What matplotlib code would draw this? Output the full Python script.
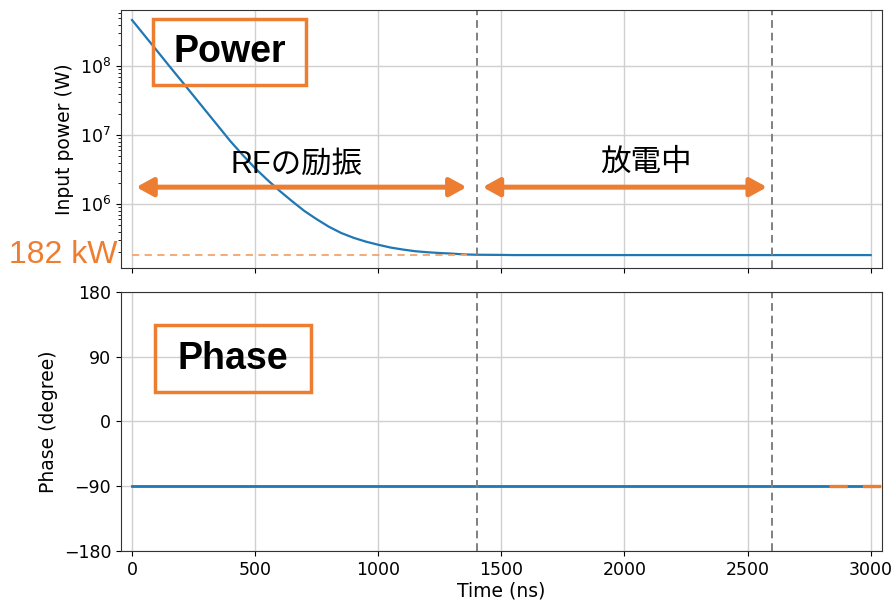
import matplotlib
matplotlib.use("Agg")
import matplotlib.pyplot as plt
import matplotlib.transforms as mtransforms
from matplotlib.patches import Rectangle, FancyArrowPatch
from matplotlib.ticker import LogLocator, NullFormatter

# データ
time_ns = [0, 50, 100, 150, 200, 250, 300, 350, 400, 450, 500, 550, 600,
           650, 700, 750, 800, 850, 900, 950, 1000, 1050, 1100, 1150, 1200,
           1250, 1300, 1350, 1400, 1500, 1550, 3000]
power_w = [4.68e8, 2.82e8, 1.70e8, 1.02e8, 6.17e7, 3.72e7, 2.24e7, 1.35e7,
           8.13e6, 5.13e6, 3.31e6, 2.24e6, 1.55e6, 1.10e6, 7.94e5, 6.03e5,
           4.68e5, 3.80e5, 3.24e5, 2.85e5, 2.57e5, 2.34e5, 2.19e5, 2.07e5,
           2.00e5, 1.95e5, 1.91e5, 1.86e5, 1.84e5, 1.83e5, 1.82e5, 1.82e5]
phase_t = [0, 3000]
phase_deg = [-90, -90]
phase_ref_t = [2830, 3110]
phase_ref_deg = [-90, -90]
level_t = [0, 1360]
level_w = [1.82e5, 1.82e5]
marker_t = [1400, 2600]
arrow_rf = [17, 1359]
arrow_dis = [1424, 2579]
arrow_y = 1.76e6

orange = "#ED7D31"
blue = "#1f77b4"
jp = ["Liberation Sans", "Noto Sans CJK JP"]

fig = plt.figure(figsize=(8.94, 6.01), dpi=100)
ax1 = fig.add_axes([0.1353, 0.554, 0.851, 0.429])
ax2 = fig.add_axes([0.1353, 0.0832, 0.851, 0.431], sharex=ax1)

# 上段: 入力電力
ax1.plot(time_ns, power_w, color=blue, lw=1.6)
ax1.plot(level_t, level_w, color="#F3A46C", lw=1.3, ls=(0, (4, 3)))
ax1.set_yscale("log")
ax1.set_ylim(1.18e5, 6.5e8)
ax1.set_xlim(-45, 3045)
ax1.yaxis.set_minor_locator(LogLocator(base=10, subs=range(2, 10), numticks=20))
ax1.yaxis.set_minor_formatter(NullFormatter())
ax1.set_ylabel("Input power (W)", fontsize=13.5)
ax1.grid(True, color="#d0d0d0", lw=1)
ax1.tick_params(labelbottom=False, labelsize=12.5)

tr = mtransforms.blended_transform_factory(ax1.transAxes, ax1.transData)
ax1.text(-0.004, level_w[0], "182 kW", transform=tr, ha="right", va="center",
         fontsize=23, color=orange, family="Liberation Sans")

for a, b in (arrow_rf, arrow_dis):
    ax1.add_patch(FancyArrowPatch((a, arrow_y), (b, arrow_y),
                                  arrowstyle="<|-|>,head_length=10,head_width=5.5",
                                  mutation_scale=1, color=orange, lw=3.6,
                                  shrinkA=0, shrinkB=0, zorder=5))
ax1.text(670, 3.7e6, "RFの励振", ha="center", va="center", fontsize=22, family=jp)
ax1.text(2089, 3.9e6, "放電中", ha="center", va="center", fontsize=22, family=jp)

ax1.add_patch(Rectangle((0.042, 0.709), 0.2017, 0.256, transform=ax1.transAxes,
                        fill=False, ec=orange, lw=2.5, zorder=6))
ax1.text(0.1426, 0.837, "Power", transform=ax1.transAxes, ha="center",
         va="center", fontsize=27, fontweight="bold", family="Liberation Sans")

# 下段: 位相
ax2.plot(phase_t, phase_deg, color=blue, lw=2)
ax2.plot(phase_ref_t, phase_ref_deg, color=orange, lw=2.4, ls=(0, (5.5, 4.5)),
         clip_on=False, zorder=6)
ax2.set_ylim(-180, 180)
ax2.set_yticks([-180, -90, 0, 90, 180])
ax2.set_xticks([0, 500, 1000, 1500, 2000, 2500, 3000])
ax2.set_ylabel("Phase (degree)", fontsize=13.5)
ax2.set_xlabel("Time (ns)", fontsize=13.5, labelpad=2)
ax2.grid(True, color="#d0d0d0", lw=1)
ax2.tick_params(labelsize=12.5)

ax2.add_patch(Rectangle((0.0447, 0.613), 0.205, 0.26, transform=ax2.transAxes,
                        fill=False, ec=orange, lw=2.5, zorder=6))
ax2.text(0.147, 0.743, "Phase", transform=ax2.transAxes, ha="center",
         va="center", fontsize=27, fontweight="bold", family="Liberation Sans")

for ax in (ax1, ax2):
    for t in marker_t:
        ax.axvline(t, color="gray", lw=1.4, ls=(0, (4, 2.5)))
    for s in ax.spines.values():
        s.set_color("#333333")

fig.savefig("out.png", dpi=100)
